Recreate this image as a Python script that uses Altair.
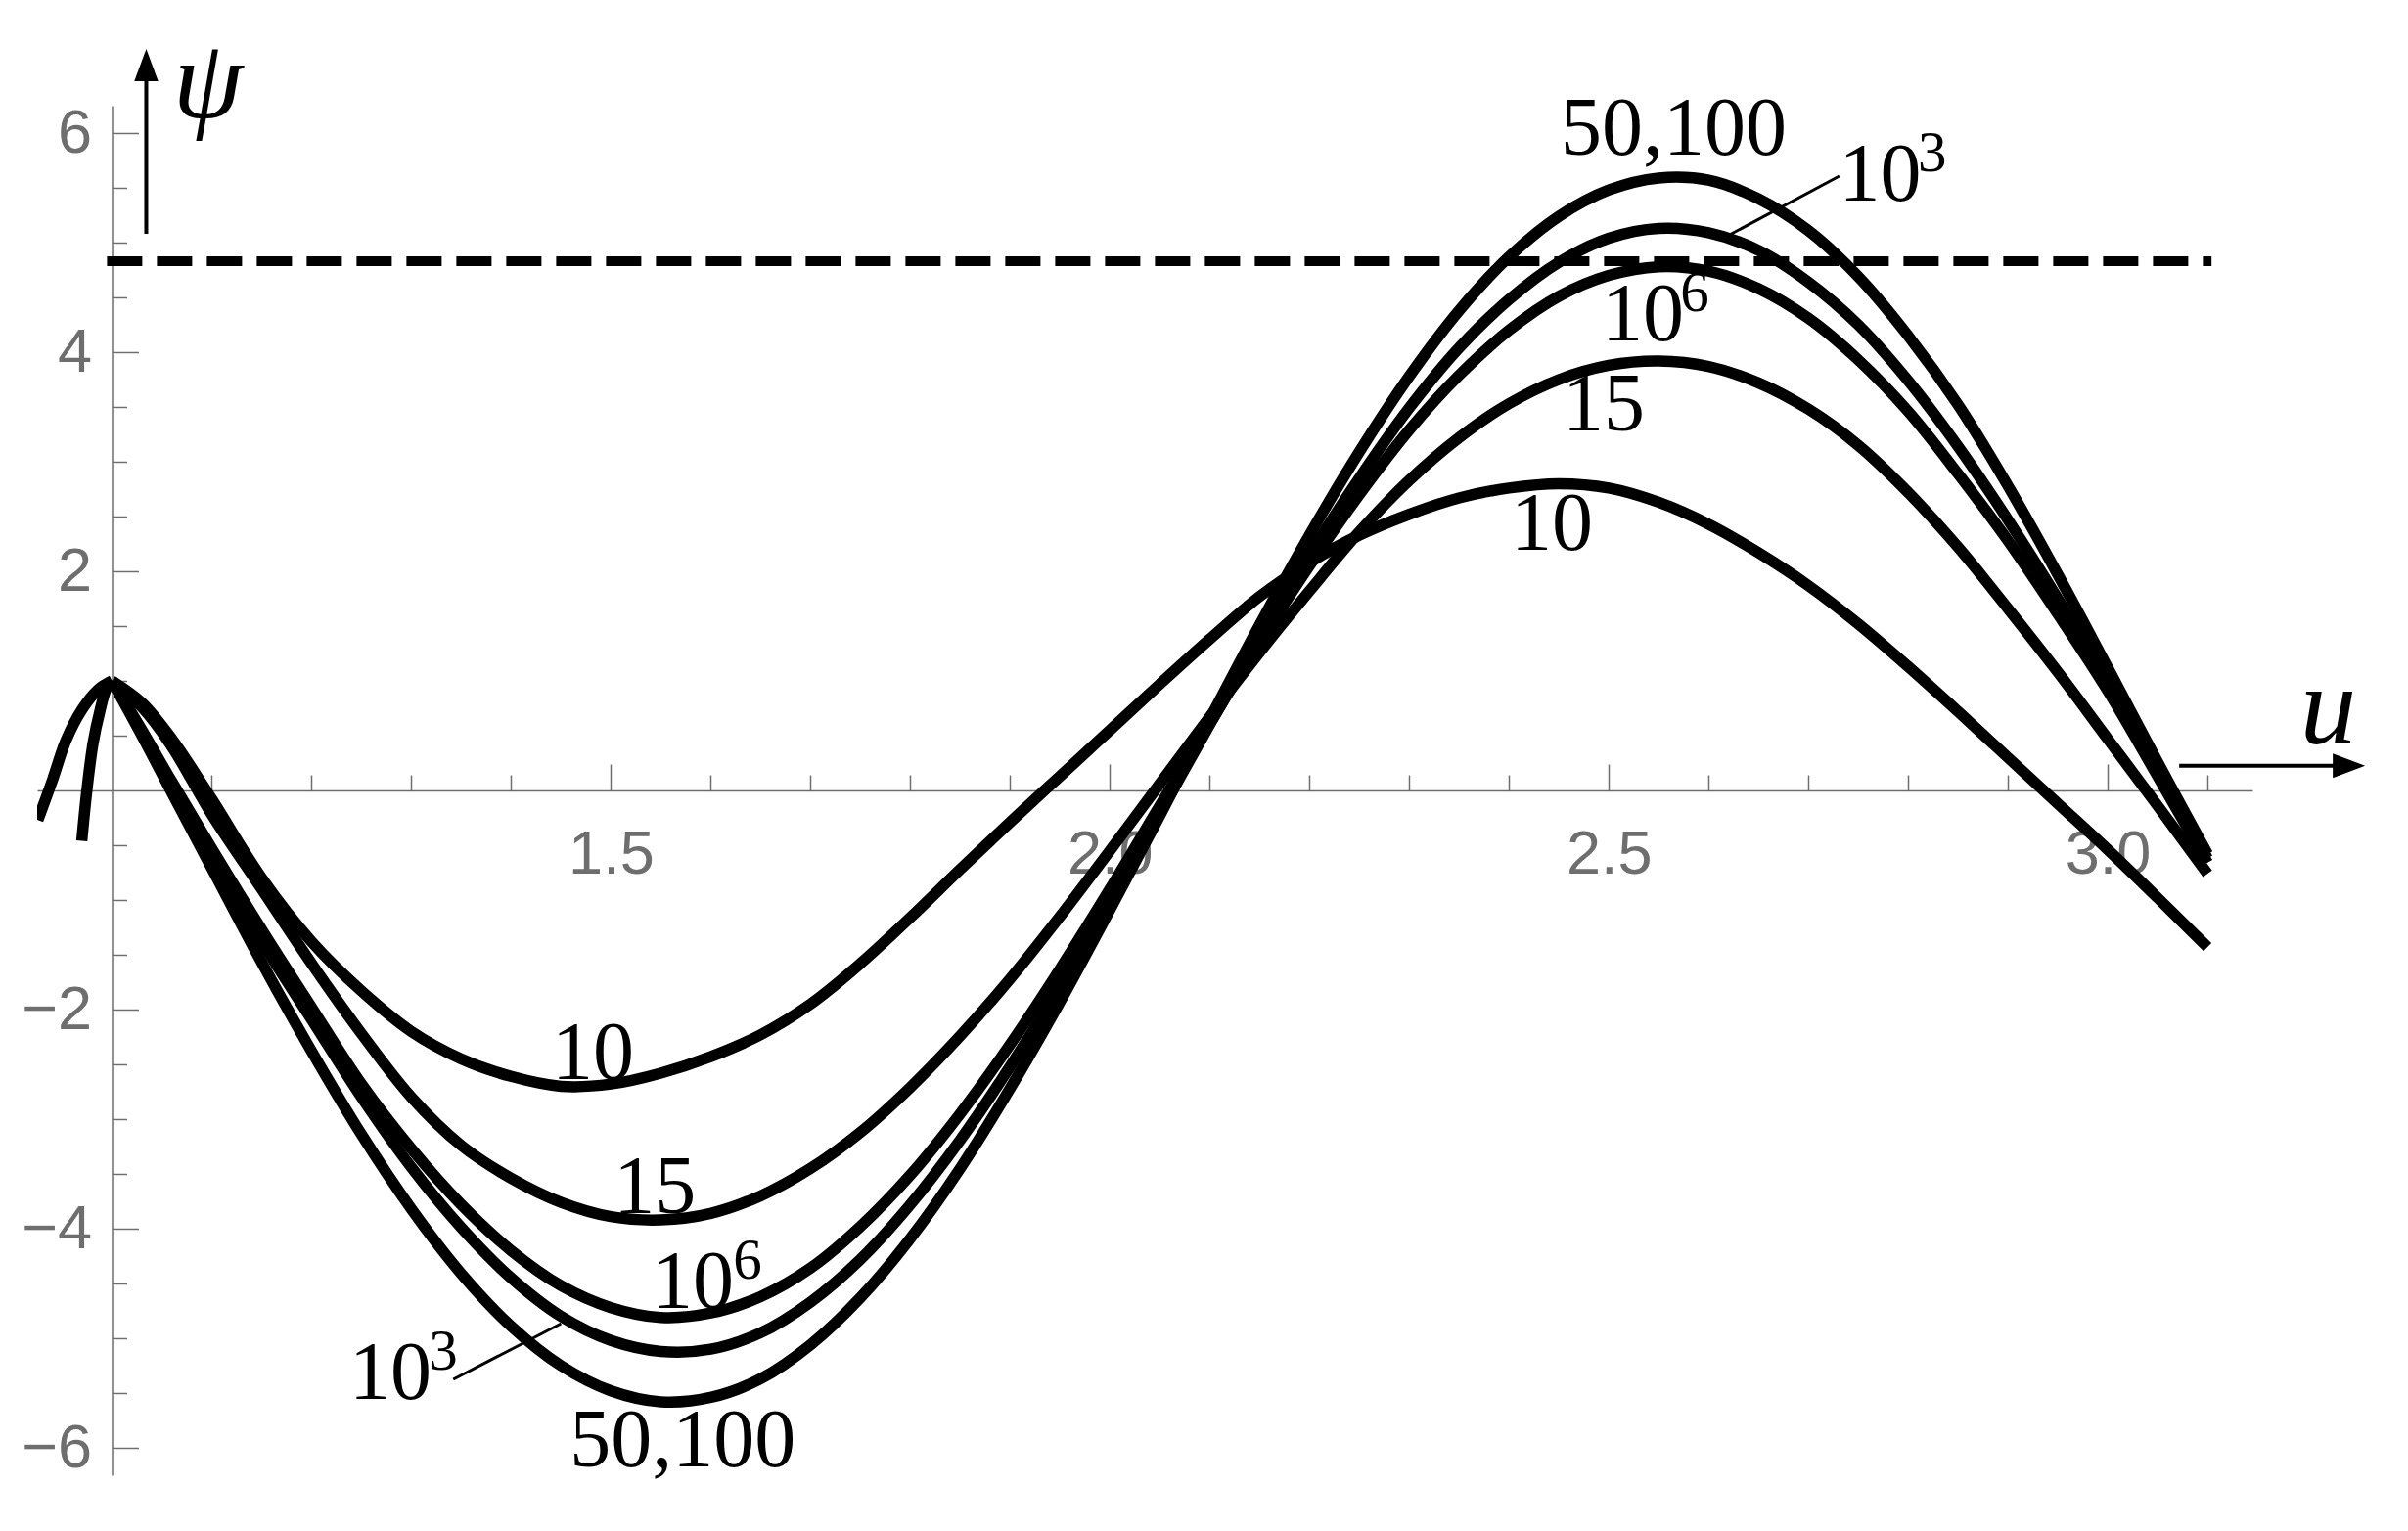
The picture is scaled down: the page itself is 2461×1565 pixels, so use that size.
import altair as alt
import pandas as pd

# ---------------- values ----------------
U_GRID = [1.00, 1.03, 1.06, 1.10, 1.15, 1.20, 1.25, 1.30, 1.35, 1.40, 1.45, 1.50,
          1.55, 1.60, 1.65, 1.70, 1.75, 1.80, 1.85, 1.90, 1.95, 2.00, 2.05, 2.10,
          2.15, 2.20, 2.25, 2.30, 2.35, 2.40, 2.45, 2.50, 2.55, 2.60, 2.65, 2.70,
          2.75, 2.80, 2.85, 2.90, 2.95, 3.00, 3.05, 3.10]

PSI_10 = [1.00, 0.80, 0.47, -0.08, -0.80, -1.38, -1.83, -2.20, -2.45, -2.61, -2.70, -2.68,
          -2.58, -2.43, -2.23, -1.95, -1.58, -1.16, -0.72, -0.29, 0.13, 0.55, 0.97, 1.38,
          1.77, 2.08, 2.33, 2.52, 2.67, 2.76, 2.80, 2.76, 2.63, 2.43, 2.17, 1.87,
          1.52, 1.13, 0.72, 0.30, -0.12, -0.54, -0.98, -1.43]

PSI_15 = [1.00, 0.76, 0.40, -0.22, -0.90, -1.58, -2.22, -2.80, -3.24, -3.54, -3.76, -3.89,
          -3.92, -3.86, -3.70, -3.45, -3.12, -2.71, -2.24, -1.72, -1.15, -0.55, 0.06, 0.67,
          1.26, 1.82, 2.36, 2.83, 3.22, 3.53, 3.75, 3.88, 3.92, 3.87, 3.72, 3.48,
          3.15, 2.72, 2.22, 1.66, 1.08, 0.47, -0.14, -0.76]

PSI_1E6 = [1.00, 0.55, 0.08, -0.53, -1.27, -1.98, -2.68, -3.27, -3.78, -4.20, -4.52, -4.72,
           -4.81, -4.77, -4.62, -4.36, -3.98, -3.51, -2.95, -2.32, -1.63, -0.90, -0.14, 0.61,
           1.35, 2.05, 2.70, 3.29, 3.79, 4.20, 4.51, 4.70, 4.78, 4.74, 4.58, 4.31,
           3.93, 3.46, 2.89, 2.28, 1.61, 0.91, 0.13, -0.66]

PSI_1E3 = [1.00, 0.53, 0.04, -0.60, -1.38, -2.09, -2.80, -3.44, -3.99, -4.45, -4.80, -5.02,
           -5.12, -5.10, -4.95, -4.67, -4.28, -3.78, -3.19, -2.52, -1.79, -1.01, -0.21, 0.60,
           1.39, 2.15, 2.85, 3.49, 4.04, 4.48, 4.82, 5.04, 5.13, 5.09, 4.93, 4.64,
           4.25, 3.74, 3.14, 2.47, 1.75, 0.98, 0.17, -0.62]

PSI_50_100 = [1.00, 0.50, -0.02, -0.71, -1.57, -2.38, -3.14, -3.82, -4.41, -4.89, -5.25, -5.48,
              -5.58, -5.54, -5.37, -5.06, -4.63, -4.09, -3.45, -2.72, -1.93, -1.09, -0.23, 0.65,
              1.51, 2.33, 3.09, 3.78, 4.38, 4.87, 5.24, 5.48, 5.59, 5.57, 5.40, 5.11,
              4.69, 4.15, 3.52, 2.78, 1.97, 1.12, 0.26, -0.58]

# branches left of u = 1
LEFT_10_U = [0.9257, 0.9405, 0.954, 0.970, 0.986, 1.0]
LEFT_10_PSI = [-0.27, 0.10, 0.46, 0.74, 0.92, 1.0]
LEFT_BUNDLE_U = [0.9697, 0.9748, 0.981, 0.988, 0.9944, 1.0]
LEFT_BUNDLE_PSI = [-0.46, 0.0, 0.43, 0.73, 0.93, 1.0]

SERIES = ["10", "15", "10^6", "10^3", "50,100"]

# dashed asymptote
ASYMPTOTE_PSI = 4.83
ASYMPTOTE_U = [0.995, 3.104]

# curve labels
LABEL_TEXT = ["10", "15", "10", "10", "50,100", "50,100", "10", "10", "15", "10"]
LABEL_U = [1.482, 1.544, 1.582, 1.279, 1.572, 2.565, 2.772, 2.534, 2.495, 2.443]
LABEL_PSI = [-2.634, -3.857, -4.723, -5.554, -6.170, 5.804, 5.384, 4.107, 3.286, 2.196]
SUP_TEXT = ["6", "3", "3", "6"]
SUP_U = [1.637, 1.332, 2.824, 2.586]
SUP_PSI = [-4.455, -5.286, 5.652, 4.375]

# leader lines for the 10^3 labels
LEADER_U1 = [1.342, 2.731]
LEADER_PSI1 = [-5.375, 5.607]
LEADER_U2 = [1.450, 2.621]
LEADER_PSI2 = [-4.866, 5.071]

# axis arrows and their names
PSI_ARROW_U = 1.0343
PSI_ARROW_PSI = [5.08, 6.62]
U_ARROW_PSI = 0.226
U_ARROW_U = [3.0716, 3.2417]
AXIS_NAME = ["ψ", "u"]
AXIS_NAME_U = [1.096, 3.221]
AXIS_NAME_PSI = [6.143, 0.429]

# ticks
X_TICKS = [1.5, 2.0, 2.5, 3.0]
X_MINOR = [1.1, 1.2, 1.3, 1.4, 1.6, 1.7, 1.8, 1.9, 2.1, 2.2, 2.3, 2.4, 2.6, 2.7, 2.8, 2.9, 3.1]
Y_TICKS = [-6, -4, -2, 2, 4, 6]
Y_MINOR = [-5.5, -5, -4.5, -3.5, -3, -2.5, -1.5, -1, -0.5, 0.5, 1, 1.5, 2.5, 3, 3.5, 4.5, 5, 5.5]

# ---------------- tables ----------------
rows = []
for name, vals in zip(SERIES, [PSI_10, PSI_15, PSI_1E6, PSI_1E3, PSI_50_100]):
    for u, p in zip(U_GRID, vals):
        rows.append({"series": name, "segment": name + "-right", "u": u, "psi": p})
for u, p in zip(LEFT_10_U, LEFT_10_PSI):
    rows.append({"series": "10", "segment": "10-left", "u": u, "psi": p})
for u, p in zip(LEFT_BUNDLE_U, LEFT_BUNDLE_PSI):
    rows.append({"series": "10^6", "segment": "bundle-left", "u": u, "psi": p})
curves = pd.DataFrame(rows)

labels = pd.DataFrame({"label": LABEL_TEXT, "u": LABEL_U, "psi": LABEL_PSI})
sups = pd.DataFrame({"label": SUP_TEXT, "u": SUP_U, "psi": SUP_PSI})
leaders = pd.DataFrame({"u": LEADER_U1, "psi": LEADER_PSI1, "u2": LEADER_U2, "psi2": LEADER_PSI2})
asym = pd.DataFrame({"u": [ASYMPTOTE_U[0]], "u2": [ASYMPTOTE_U[1]], "psi": [ASYMPTOTE_PSI]})
psi_shaft = pd.DataFrame({"u": [PSI_ARROW_U], "psi": [PSI_ARROW_PSI[0]], "psi2": [PSI_ARROW_PSI[1]]})
psi_head = pd.DataFrame({"u": [PSI_ARROW_U], "psi": [PSI_ARROW_PSI[1]]})
u_shaft = pd.DataFrame({"u": [U_ARROW_U[0]], "u2": [U_ARROW_U[1]], "psi": [U_ARROW_PSI]})
u_head = pd.DataFrame({"u": [U_ARROW_U[1]], "psi": [U_ARROW_PSI]})
names = pd.DataFrame({"label": AXIS_NAME, "u": AXIS_NAME_U, "psi": AXIS_NAME_PSI})
anchor = pd.DataFrame({"u": [2.0], "psi": [0.0]})

# ---------------- layout ----------------
W, H = 2264, 1400
U_MIN, U_MAX = 0.925, 3.145
P_MIN, P_MAX = -6.25, 6.25
X_AXIS_AT = (1.0 - U_MIN) / (U_MAX - U_MIN) * W      # where the vertical axis sits
Y_AXIS_AT = (P_MAX - 0.0) / (P_MAX - P_MIN) * H      # where the horizontal axis sits (from top)

XS = alt.Scale(domain=[U_MIN, U_MAX], nice=False, zero=False)
YS = alt.Scale(domain=[P_MIN, P_MAX], nice=False, zero=False)
GRAY = "#6e6e6e"
SERIF = "Liberation Serif"


def xq(field="u", axis=None):
    if axis is None:
        return alt.X(f"{field}:Q", scale=XS, axis=None)
    return alt.X(f"{field}:Q", scale=XS, axis=axis)


def yq(field="psi", axis=None):
    if axis is None:
        return alt.Y(f"{field}:Q", scale=YS, axis=None)
    return alt.Y(f"{field}:Q", scale=YS, axis=axis)


x_main = alt.Axis(orient="bottom", offset=-(H - Y_AXIS_AT), values=X_TICKS, format=".1f",
                  ticks=False, tickSize=0, labelPadding=34, labelFont="Liberation Sans",
                  labelFontSize=63, labelColor=GRAY, labelFlush=False, domainColor=GRAY,
                  domainWidth=1.5, grid=False, title=None)
y_main = alt.Axis(orient="left", offset=-X_AXIS_AT, values=Y_TICKS, format="d",
                  ticks=False, tickSize=0, labelPadding=21, labelFont="Liberation Sans",
                  labelFontSize=63, labelColor=GRAY, domainColor=GRAY, domainWidth=1.5,
                  grid=False, title=None)


def tick_axis(orient, offset, values, size):
    return alt.Axis(orient=orient, offset=offset, values=values, labels=False, domain=False,
                    ticks=True, tickSize=size, tickColor=GRAY, tickWidth=1.5, grid=False,
                    title=None)


lines = alt.Chart(curves).mark_line(color="black", interpolate="catmull-rom", clip=True).encode(
    x=xq(axis=x_main),
    y=yq(axis=y_main),
    detail="segment:N",
    strokeWidth=alt.StrokeWidth("series:N", scale=alt.Scale(domain=SERIES, range=[11.5, 11.5, 11.5, 11.5, 15.5]), legend=None),
)

major = alt.Chart(anchor).mark_point(opacity=0).encode(
    x=xq(axis=tick_axis("top", -Y_AXIS_AT, X_TICKS, 27)),
    y=yq(axis=tick_axis("right", -(W - X_AXIS_AT), Y_TICKS, 27)),
)
minor = alt.Chart(anchor).mark_point(opacity=0).encode(
    x=xq(axis=tick_axis("top", -Y_AXIS_AT, X_MINOR, 16)),
    y=yq(axis=tick_axis("right", -(W - X_AXIS_AT), Y_MINOR, 15)),
)

dashed = alt.Chart(asym).mark_rule(color="black", strokeWidth=10, strokeDash=[36, 15]).encode(
    x=xq(), x2="u2:Q", y=yq()
)
leader = alt.Chart(leaders).mark_rule(color="black", strokeWidth=3).encode(
    x=xq(), x2="u2:Q", y=yq(), y2="psi2:Q"
)
label_text = alt.Chart(labels).mark_text(font=SERIF, fontSize=84, align="center",
                                         baseline="alphabetic", color="black").encode(
    x=xq(), y=yq(), text="label:N"
)
sup_text = alt.Chart(sups).mark_text(font=SERIF, fontSize=59, align="center",
                                     baseline="alphabetic", color="black").encode(
    x=xq(), y=yq(), text="label:N"
)
psi_arrow = alt.Chart(psi_shaft).mark_rule(color="black", strokeWidth=4).encode(
    x=xq(), y=yq(), y2="psi2:Q"
)
psi_arrow_head = alt.Chart(psi_head).mark_point(
    shape="M0,-1L0.74,1L-0.74,1Z", size=1089, filled=True, color="black", opacity=1, strokeWidth=0
).encode(x=xq(), y=yq())
u_arrow = alt.Chart(u_shaft).mark_rule(color="black", strokeWidth=4).encode(
    x=xq(), x2="u2:Q", y=yq()
)
u_arrow_head = alt.Chart(u_head).mark_point(
    shape="M1,0L-1,-0.76L-1,0.76Z", size=1089, filled=True, color="black", opacity=1, strokeWidth=0
).encode(x=xq(), y=yq())
axis_names = alt.Chart(names).mark_text(font=SERIF, fontStyle="italic", fontSize=115,
                                        align="center", baseline="alphabetic", color="black").encode(
    x=xq(), y=yq(), text="label:N"
)

chart = alt.layer(
    lines, major, minor, dashed, leader, label_text, sup_text,
    psi_arrow, psi_arrow_head, u_arrow, u_arrow_head, axis_names,
).resolve_axis(x="independent", y="independent").properties(
    width=W, height=H,
    padding={"left": 30, "top": 100, "right": 150, "bottom": 45},
    autosize=alt.AutoSizeParams(type="none"),
).configure_view(stroke=None)

chart.save("out.html", embed_options={"renderer": "svg", "actions": False})
